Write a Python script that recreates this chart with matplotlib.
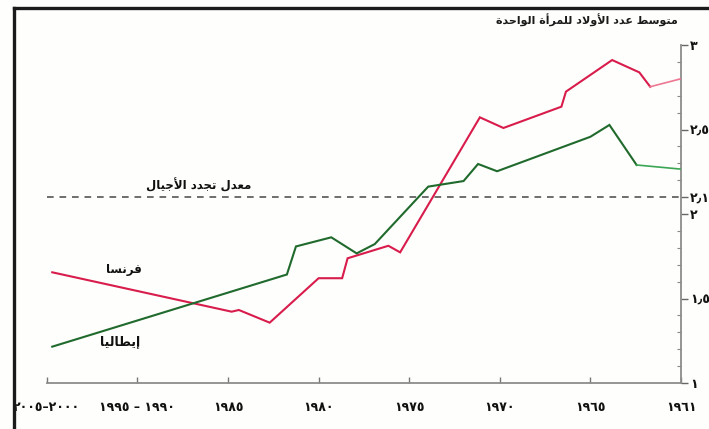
import matplotlib
matplotlib.use("Agg")
import matplotlib.pyplot as plt
from matplotlib.lines import Line2D
from matplotlib.ticker import FixedLocator, MultipleLocator

# ---------------------------------------------------------------------------
# Data: average number of children per woman (France / Italy)
# ---------------------------------------------------------------------------
tick_years = [1960, 1965, 1970, 1975, 1980, 1985, 1990, 1995]
tick_labels = ["١٩٦١", "١٩٦٥", "١٩٧٠", "١٩٧٥", "١٩٨٠", "١٩٨٥",
               "١٩٩٥ – ١٩٩٠", "٢٠٠٥–٢٠٠٠"]

france_years = [1994.7, 1984.8, 1984.4, 1982.7, 1980.0, 1978.7, 1978.4,
                1976.15, 1975.5, 1971.1, 1969.8, 1966.6, 1966.35, 1963.8,
                1962.3, 1961.7, 1960.05]
france_values = [1.655, 1.422, 1.432, 1.357, 1.620, 1.620, 1.738,
                 1.812, 1.773, 2.572, 2.509, 2.635, 2.724, 2.911,
                 2.838, 2.753, 2.799]

italy_years = [1994.7, 1981.75, 1981.25, 1979.3, 1977.9, 1976.9, 1973.95,
               1972.0, 1971.2, 1970.15, 1965.0, 1963.95, 1962.45, 1960.05]
italy_values = [1.215, 1.642, 1.808, 1.862, 1.767, 1.822, 2.162,
                2.195, 2.296, 2.253, 2.457, 2.527, 2.290, 2.266]

replacement_rate = 2.1
y_ticks = [1, 1.5, 2, 2.1, 2.5, 3]
y_labels = ["١", "١٫٥", "٢", "٢٫١", "٢٫٥", "٣"]

title = "متوسط عدد الأولاد للمرأة الواحدة"
rate_label = "معدل تجدد الأجيال"
france_label = "فرنسا"
italy_label = "إيطاليا"

# ---------------------------------------------------------------------------
# Minimal Arabic shaping (contextual forms + lam-alef) for left-to-right
# text rendering.
# ---------------------------------------------------------------------------
_FORMS = {
    "ا": (0xFE8D, 2), "أ": (0xFE83, 2), "إ": (0xFE87, 2), "آ": (0xFE81, 2),
    "ب": (0xFE8F, 4), "ة": (0xFE93, 2), "ت": (0xFE95, 4), "ث": (0xFE99, 4),
    "ج": (0xFE9D, 4), "ح": (0xFEA1, 4), "خ": (0xFEA5, 4), "د": (0xFEA9, 2),
    "ذ": (0xFEAB, 2), "ر": (0xFEAD, 2), "ز": (0xFEAF, 2), "س": (0xFEB1, 4),
    "ش": (0xFEB5, 4), "ص": (0xFEB9, 4), "ض": (0xFEBD, 4), "ط": (0xFEC1, 4),
    "ظ": (0xFEC5, 4), "ع": (0xFEC9, 4), "غ": (0xFECD, 4), "ف": (0xFED1, 4),
    "ق": (0xFED5, 4), "ك": (0xFED9, 4), "ل": (0xFEDD, 4), "م": (0xFEE1, 4),
    "ن": (0xFEE5, 4), "ه": (0xFEE9, 4), "و": (0xFEED, 2), "ى": (0xFEEF, 2),
    "ي": (0xFEF1, 4),
}
_LAM_ALEF = {"ا": 0xFEFB, "أ": 0xFEF7, "إ": 0xFEF9, "آ": 0xFEF5}


def _dual(ch):
    return ch in _FORMS and _FORMS[ch][1] == 4


def shape_arabic(text):
    out = []
    i = 0
    n = len(text)
    while i < n:
        ch = text[i]
        if ch not in _FORMS:
            out.append(ch)
            i += 1
            continue
        prev = text[i - 1] if i > 0 else ""
        joins_prev = _dual(prev)
        if ch == "ل" and i + 1 < n and text[i + 1] in _LAM_ALEF:
            base = _LAM_ALEF[text[i + 1]]
            out.append(chr(base + (1 if joins_prev else 0)))
            i += 2
            continue
        base, count = _FORMS[ch]
        nxt = text[i + 1] if i + 1 < n else ""
        joins_next = count == 4 and nxt in _FORMS
        if joins_prev and joins_next:
            form = 3
        elif joins_next:
            form = 2
        elif joins_prev:
            form = 1
        else:
            form = 0
        out.append(chr(base + form))
        i += 1
    return "".join(reversed(out))


# ---------------------------------------------------------------------------
# Figure
# ---------------------------------------------------------------------------
W, H = 709, 429
fig = plt.figure(figsize=(W / 100, H / 100), dpi=100)
fig.patch.set_facecolor("#fefefc")

left_px, right_px, top_px, bottom_px = 46.8, 681, 45, 383
ax = fig.add_axes([left_px / W, (H - bottom_px) / H,
                   (right_px - left_px) / W, (bottom_px - top_px) / H])
ax.set_facecolor("none")
ax.set_xlim(1995, 1960)
ax.set_ylim(1, 3)

red = "#d81c4c"
red_light = "#ee7893"
green = "#1f6a2c"
green_light = "#3aa653"

ax.plot(france_years[:-1], france_values[:-1], color=red, lw=1.5,
        solid_joinstyle="miter", zorder=3)
ax.plot(france_years[-2:], france_values[-2:], color=red_light, lw=1.2,
        zorder=3)
ax.plot(italy_years[:-1], italy_values[:-1], color=green, lw=1.5,
        solid_joinstyle="miter", zorder=3)
ax.plot(italy_years[-2:], italy_values[-2:], color=green_light, lw=1.2,
        zorder=3)

ax.axhline(replacement_rate, color="#555555", lw=1.2, ls=(0, (4, 3.5)),
           zorder=2)

# spines
for side in ("top", "left"):
    ax.spines[side].set_visible(False)
for side in ("bottom", "right"):
    ax.spines[side].set_color("#8c8c8c")
    ax.spines[side].set_linewidth(1.3)

# y axis on the right
ax.yaxis.tick_right()
ax.yaxis.set_major_locator(FixedLocator(y_ticks))
ax.set_yticklabels(y_labels)
ax.yaxis.set_minor_locator(MultipleLocator(0.1))
ax.tick_params(axis="y", which="major", direction="out", length=5,
               width=1, color="#666666", pad=1.5, labelsize=9,
               labelcolor="#111111")
ax.tick_params(axis="y", which="minor", direction="in", length=3,
               width=0.8, color="#888888")
for lbl in ax.get_yticklabels():
    lbl.set_fontweight("bold")

# x axis
ax.xaxis.set_major_locator(FixedLocator(tick_years))
ax.set_xticklabels(tick_labels)
ax.tick_params(axis="x", which="major", direction="in", length=4,
               width=1, color="#777777", pad=13, labelsize=9,
               labelcolor="#111111")
for lbl in ax.get_xticklabels():
    lbl.set_fontweight("bold")

# annotations
ax.text(1986.6, replacement_rate + 0.025, shape_arabic(rate_label),
        ha="center", va="bottom", fontsize=8.5, fontweight="bold",
        color="#111111")
ax.text(1990.75, 1.669, shape_arabic(france_label), ha="center",
        va="center", fontsize=8.5, fontweight="bold", color="#111111")
ax.text(1990.95, 1.243, shape_arabic(italy_label), ha="center",
        va="center", fontsize=9, fontweight="bold", color="#111111")

fig.text(678 / W, 1 - 20 / H, shape_arabic(title), ha="right",
         va="center", fontsize=8, fontweight="bold", color="#1a1a1a")

# page frame
frame_color = "#1b1b1b"
fig.add_artist(Line2D([14 / W, 14 / W], [0, 1 - 7.5 / H],
                      transform=fig.transFigure, color=frame_color, lw=2.4))
fig.add_artist(Line2D([14 / W, 1], [1 - 7.5 / H, 1 - 7.5 / H],
                      transform=fig.transFigure, color=frame_color, lw=2.4))

fig.savefig("out.png", dpi=100, facecolor=fig.get_facecolor())
